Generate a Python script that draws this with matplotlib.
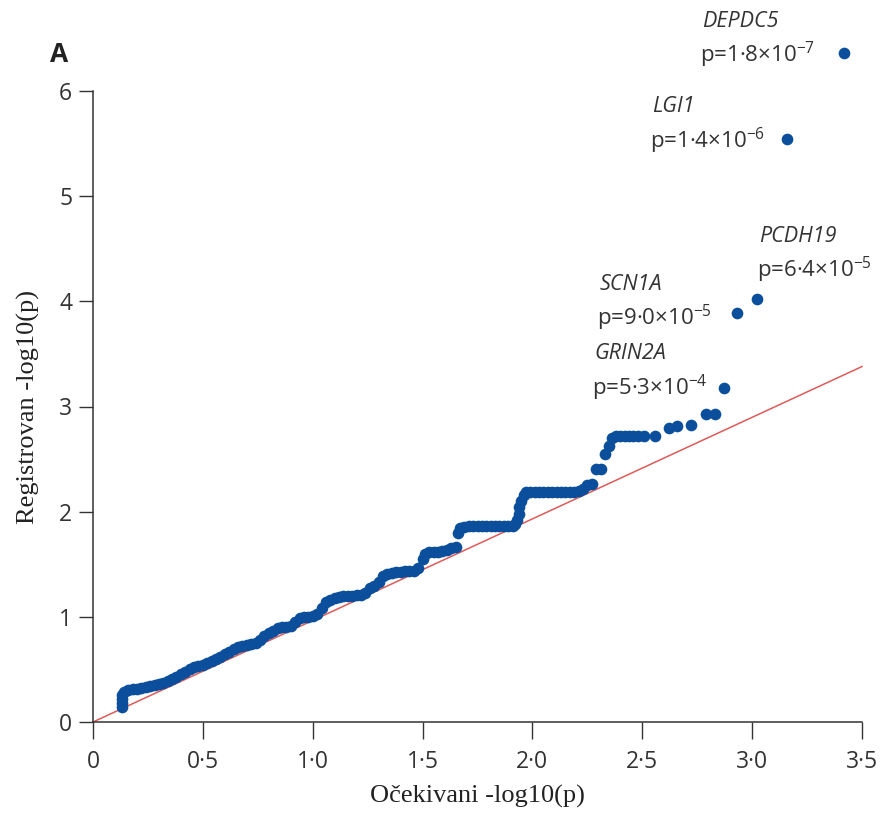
import numpy as np
import matplotlib
matplotlib.use("Agg")
import matplotlib.pyplot as plt

#######################################################
## data
#######################################################
expected = [0.13, 0.13, 0.13, 0.13, 0.14, 0.16, 0.18, 0.20, 0.22, 0.24,
            0.26, 0.28, 0.30, 0.32, 0.34, 0.36, 0.38, 0.40, 0.42, 0.44,
            0.46, 0.48, 0.50, 0.52, 0.54, 0.56, 0.58, 0.60, 0.62, 0.64,
            0.66, 0.68, 0.70, 0.72, 0.74, 0.76, 0.78, 0.80, 0.82, 0.84,
            0.86, 0.88, 0.90, 0.92, 0.94, 0.96, 0.98, 1.00, 1.02, 1.04,
            1.06, 1.08, 1.10, 1.12, 1.14, 1.16, 1.18, 1.20, 1.22, 1.24,
            1.26, 1.28, 1.30, 1.32, 1.34, 1.36, 1.38, 1.40, 1.42, 1.44,
            1.46, 1.48, 1.50, 1.51, 1.53, 1.55, 1.57, 1.59, 1.61, 1.63,
            1.65, 1.66, 1.67, 1.69, 1.71, 1.73, 1.75, 1.77, 1.79, 1.81,
            1.83, 1.85, 1.87, 1.89, 1.91, 1.92, 1.93, 1.94, 1.94, 1.95,
            1.96, 1.97, 1.99, 2.01, 2.03, 2.05, 2.07, 2.09, 2.11, 2.13,
            2.15, 2.17, 2.19, 2.21, 2.23, 2.25, 2.27, 2.29, 2.31, 2.33,
            2.35, 2.36, 2.38, 2.40, 2.42, 2.44, 2.46, 2.48, 2.51, 2.56,
            2.62, 2.66, 2.72, 2.79, 2.83, 2.87, 2.93, 3.02, 3.16, 3.42]
observed = [0.14, 0.18, 0.22, 0.26, 0.29, 0.30, 0.31, 0.31, 0.32, 0.33,
            0.34, 0.35, 0.36, 0.37, 0.39, 0.41, 0.43, 0.46, 0.48, 0.50,
            0.52, 0.53, 0.54, 0.56, 0.58, 0.60, 0.62, 0.65, 0.67, 0.69,
            0.71, 0.72, 0.73, 0.74, 0.75, 0.78, 0.82, 0.85, 0.87, 0.89,
            0.90, 0.90, 0.91, 0.95, 0.99, 1.00, 1.00, 1.01, 1.03, 1.08,
            1.14, 1.16, 1.18, 1.19, 1.20, 1.20, 1.20, 1.21, 1.21, 1.23,
            1.27, 1.29, 1.33, 1.39, 1.41, 1.42, 1.43, 1.43, 1.44, 1.44,
            1.44, 1.46, 1.55, 1.60, 1.62, 1.62, 1.62, 1.63, 1.64, 1.65,
            1.66, 1.80, 1.84, 1.85, 1.86, 1.86, 1.86, 1.86, 1.86, 1.86,
            1.86, 1.86, 1.86, 1.86, 1.86, 1.88, 1.92, 1.98, 2.04, 2.10,
            2.16, 2.19, 2.19, 2.19, 2.19, 2.19, 2.19, 2.19, 2.19, 2.19,
            2.19, 2.19, 2.19, 2.20, 2.22, 2.25, 2.26, 2.41, 2.41, 2.55,
            2.62, 2.70, 2.72, 2.72, 2.72, 2.72, 2.72, 2.72, 2.72, 2.72,
            2.80, 2.81, 2.82, 2.93, 2.93, 3.18, 3.89, 4.02, 5.54, 6.36]

genes      = ["DEPDC5", "LGI1", "PCDH19", "SCN1A", "GRIN2A"]
gene_pvals = [r"p=1·8×10$^{-7}$", r"p=1·4×10$^{-6}$", r"p=6·4×10$^{-5}$",
              r"p=9·0×10$^{-5}$", r"p=5·3×10$^{-4}$"]
label_x    = [2.763, 2.535, 3.02, 2.294, 2.271]
label_y    = [6.34, 5.53, 4.30, 3.84, 3.18]

diag_x = [0, 3.5]
diag_y = [0, 3.38]

xticks       = [0, 0.5, 1.0, 1.5, 2.0, 2.5, 3.0, 3.5]
xtick_labels = ["0", "0·5", "1·0", "1·5", "2·0", "2·5", "3·0", "3·5"]
yticks       = [0, 1, 2, 3, 4, 5, 6]

#######################################################
plt.rcParams["font.family"] = ["Open Sans", "DejaVu Sans"]
plt.rcParams["mathtext.fontset"] = "custom"
plt.rcParams["mathtext.rm"] = "Open Sans"
plt.rcParams["mathtext.it"] = "Open Sans:italic"

dark  = "#333333"
blue  = "#0b4f9c"
red   = "#e05a5a"

fig = plt.figure(figsize=(8.8, 8.14), dpi=100)
ax = fig.add_axes([93/880, 1-722/814, 769/880, 631/814])

ax.plot(diag_x, diag_y, color=red, lw=1.1, zorder=1, clip_on=False)
ax.plot(expected, observed, "o", color=blue, ms=8.4, mec="none",
        zorder=2, clip_on=False)

for g, p, tx, ty in zip(genes, gene_pvals, label_x, label_y):
    ax.text(tx + 0.01, ty + 0.32, g, style="italic", fontsize=15.5,
            color=dark, ha="left", va="center")
    ax.text(tx, ty, p, fontsize=16, color=dark, ha="left", va="center")

ax.set_xlim(0, 3.5)
ax.set_ylim(0, 6)
ax.set_xticks(xticks)
ax.set_xticklabels(xtick_labels)
ax.set_yticks(yticks)
ax.tick_params(axis="x", length=12, width=1, color=dark, labelcolor=dark,
               labelsize=16.5, pad=8)
ax.tick_params(axis="y", length=10, width=1, color=dark, labelcolor=dark,
               labelsize=16.5, pad=5)
for s in ["top", "right"]:
    ax.spines[s].set_visible(False)
for s in ["left", "bottom"]:
    ax.spines[s].set_color(dark)
    ax.spines[s].set_linewidth(1.1)

ax.set_xlabel("Očekivani -log10(p)", family="Liberation Serif", fontsize=19,
              color="#222222", labelpad=8)
ax.set_ylabel("Registrovan -log10(p)", family="Liberation Serif", fontsize=19,
              color="#222222", labelpad=14)

fig.text(50/880, 1-55/814, "A", fontsize=19, fontweight="bold",
         color="#222222", ha="left", va="center")

fig.savefig("out.png", dpi=100)
